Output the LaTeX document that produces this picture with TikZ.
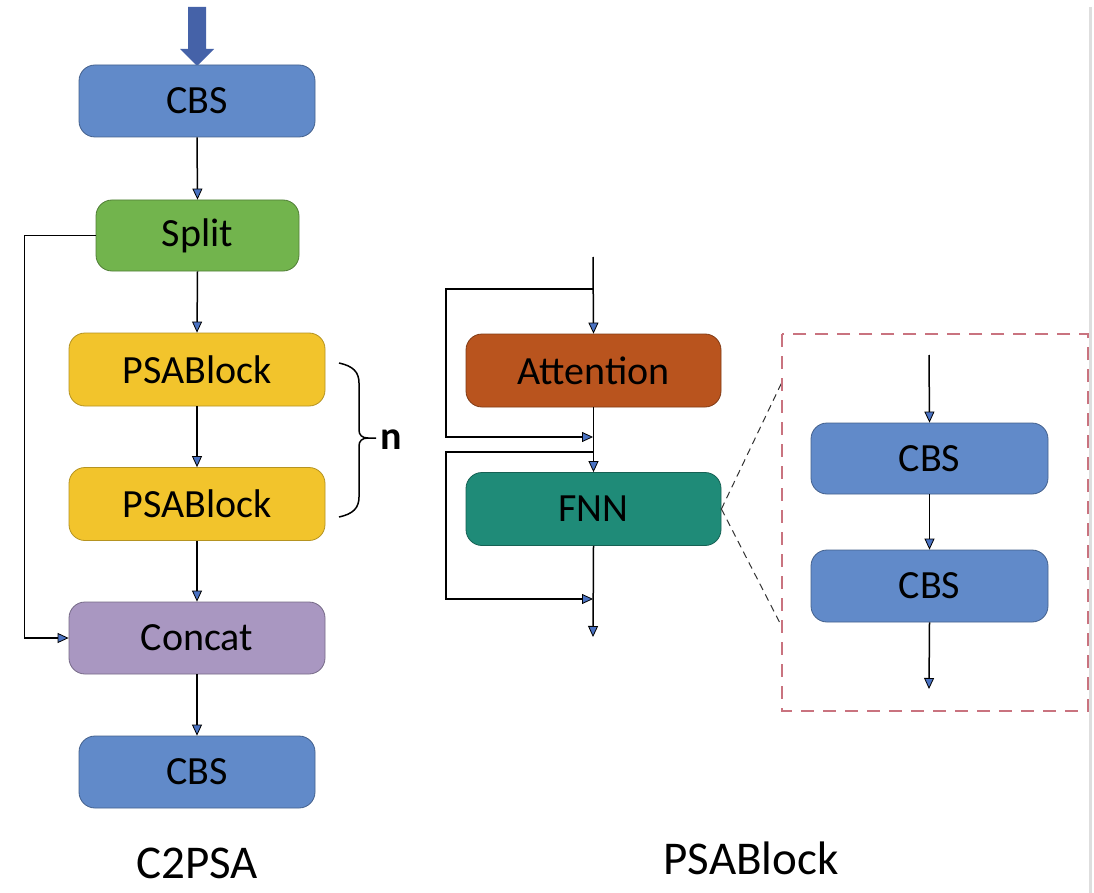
\documentclass[tikz,border=0pt]{standalone}
\usepackage{fontspec}
\setmainfont{Carlito}
\usetikzlibrary{arrows.meta}
\definecolor{cbsblue}{HTML}{618AC9}
\definecolor{splitgreen}{HTML}{72B44D}
\definecolor{psagold}{HTML}{F2C42C}
\definecolor{catpurple}{HTML}{A997C1}
\definecolor{attorange}{HTML}{B9541E}
\definecolor{fnnteal}{HTML}{1F8B78}
\definecolor{tipblue}{HTML}{4A72C2}
\definecolor{bigblue}{HTML}{4562A8}
\definecolor{boxred}{HTML}{C9737F}
\newcommand\bxf{\fontsize{40}{44}\selectfont}
\newcommand\lbf{\fontsize{47}{50}\selectfont}
\tikzset{
  blk/.style={rounded corners=16pt, minimum height=72pt, inner sep=0pt, font=\bxf, text=black, line width=0.8pt},
  cbsbox/.style={blk, fill=cbsblue, draw=cbsblue!70!black, minimum width=236pt},
  splitbox/.style={blk, fill=splitgreen, draw=splitgreen!70!black, minimum width=203pt, minimum height=71pt},
  psabox/.style={blk, fill=psagold, draw=psagold!75!black, minimum width=256pt, minimum height=73pt},
  catbox/.style={blk, fill=catpurple, draw=catpurple!70!black, minimum width=256pt},
  attbox/.style={blk, fill=attorange, draw=attorange!70!black, minimum width=255pt, minimum height=73pt},
  fnnbox/.style={blk, fill=fnnteal, draw=fnnteal!70!black, minimum width=255pt, minimum height=73pt},
  arr/.style={line width=1.5pt, draw=black, -{Triangle[length=11pt,width=10pt,fill=tipblue,line width=0.8pt]}},
  plain/.style={line width=1.5pt, draw=black},
  zoomline/.style={line width=1pt, draw=black!80, dash pattern=on 7pt off 5pt},
  redbox/.style={line width=2pt, draw=boxred, dash pattern=on 13pt off 9pt},
  title/.style={font=\lbf, text=black, inner sep=0pt}
}
\begin{document}
\begin{tikzpicture}[x=1pt,y=-1pt]
\useasboundingbox (0,0) rectangle (1094,893);
\fill[white] (0,0) rectangle (1094,893);
% right gray edge
\draw[line width=3pt, draw=black!13] (1090,7) -- (1090,893);
% big input arrow
\fill[bigblue] (188,7) -- (206,7) -- (206,49) -- (214,49) -- (197,66) -- (180,49) -- (188,49) -- cycle;

% C2PSA column
\node[cbsbox] (cbs1) at (197,101) {CBS};
\node[splitbox] (split) at (197.5,235.5) {Split};
\node[psabox] (psa1) at (197,369.5) {PSABlock};
\node[psabox] (psa2) at (197,504) {PSABlock};
\node[catbox] (concat) at (197,638) {Concat};
\node[cbsbox] (cbs2) at (197,772) {CBS};
\node[title] (t1) at (197,863) {C2PSA};

\draw[arr] (cbs1.south) -- (split.north);
\draw[arr] (split.south) -- (psa1.north);
\draw[arr] (psa1.south) -- (psa2.north);
\draw[arr] (psa2.south) -- (concat.north);
\draw[arr] (concat.south) -- (cbs2.north);
\draw[arr] (split.west) -- ++(-71,0) |- (concat.west);

% brace
\draw[plain] (339,363) .. controls (353,366) and (359,372) .. (359,383) -- (359,430) .. controls (359,435) and (362,438) .. (368,438) -- (376,438);
\draw[plain] (339,517) .. controls (353,514) and (359,508) .. (359,497) -- (359,446) .. controls (359,441) and (362,438) .. (368,438);
\node[font=\bxf\bfseries, inner sep=0pt] (nlab) at (391,440) {n};

% PSABlock column
\node[attbox] (att) at (593.5,370.5) {Attention};
\node[fnnbox] (fnn) at (593.5,509) {FNN};
\node[title] (t2) at (751,858) {PSABlock};
\coordinate (in) at (593,257);
\coordinate (b1) at (593,289);
\coordinate (j1) at (593,437);
\coordinate (b2) at (593,452);
\coordinate (j2) at (593,599);
\coordinate (out) at (593,637);
\draw[arr] (in) -- (att.north);
\draw[arr] (b1) -- (446,289) -- (446,437) -- (j1);
\draw[arr] (att.south) -- (fnn.north);
\draw[arr] (b2) -- (446,452) -- (446,599) -- (j2);
\draw[arr] (fnn.south) -- (out);

% zoom box
\coordinate (zt) at (782,382);
\coordinate (zb) at (782,627);
\draw[zoomline] (fnn.east) -- (zt);
\draw[zoomline] (fnn.east) -- (zb);
\draw[redbox] (782,334) rectangle (1088,711);
\node[cbsbox, minimum width=237pt, minimum height=71pt] (cbs3) at (929.5,458.5) {CBS};
\node[cbsbox, minimum width=237pt] (cbs4) at (929.5,586) {CBS};
\coordinate (zin) at (929,355);
\coordinate (zout) at (929,689);
\draw[arr] (zin) -- (cbs3.north);
\draw[arr] (cbs3.south) -- (cbs4.north);
\draw[arr] (cbs4.south) -- (zout);
\end{tikzpicture}
\end{document}
